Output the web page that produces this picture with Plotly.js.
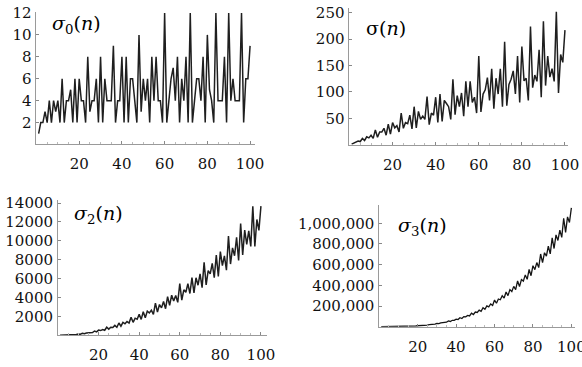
<!DOCTYPE html>
<html>
<head>
<meta charset="utf-8">
<script src="https://cdn.plot.ly/plotly-3.0.1.min.js"></script>
<style>html,body{margin:0;padding:0;background:#fff;}#chart{width:582px;height:367px;}</style>
</head>
<body>
<div id="chart"></div>
<script>
// n = 1..100
const nValues = [1,2,3,4,5,6,7,8,9,10,11,12,13,14,15,16,17,18,19,20,21,22,23,24,25,26,27,28,29,30,31,32,33,34,35,36,37,38,39,40,41,42,43,44,45,46,47,48,49,50,51,52,53,54,55,56,57,58,59,60,61,62,63,64,65,66,67,68,69,70,71,72,73,74,75,76,77,78,79,80,81,82,83,84,85,86,87,88,89,90,91,92,93,94,95,96,97,98,99,100];

const sigma0 = [1,2,2,3,2,4,2,4,3,4,2,6,2,4,4,5,2,6,2,6,4,4,2,8,3,4,4,6,2,8,2,6,4,4,4,9,2,4,4,8,2,8,2,6,6,4,2,10,3,6,4,6,2,8,4,8,4,4,2,12,2,4,6,7,4,8,2,6,4,8,2,12,2,4,6,6,4,8,2,10,5,4,2,12,4,4,4,8,2,12,4,6,4,4,4,12,2,6,6,9];

const sigma1 = [1,3,4,7,6,12,8,15,13,18,12,28,14,24,24,31,18,39,20,42,32,36,24,60,31,42,40,56,30,72,32,63,48,54,48,91,38,60,56,90,42,96,44,84,78,72,48,124,57,93,72,98,54,120,72,120,80,90,60,168,62,96,104,127,84,144,68,126,96,144,72,195,74,114,124,140,96,168,80,186,121,126,84,224,108,132,120,180,90,234,112,168,128,144,120,252,98,171,156,217];

const sigma2 = [1,5,10,21,26,50,50,85,91,130,122,210,170,250,260,341,290,455,362,546,500,610,530,850,651,850,820,1050,842,1300,962,1365,1220,1450,1300,1911,1370,1810,1700,2210,1682,2500,1850,2562,2366,2650,2210,3410,2451,3255,2900,3570,2810,4100,3172,4250,3620,4210,3482,5460,3722,4810,4550,5461,4420,6100,4490,6090,5300,6500,5042,7735,5330,6850,6510,7602,6100,8500,6242,8866,7381,8410,6890,10500,7540,9250,8420,10370,7922,11830,8500,11130,9620,11050,9412,13650,9410,12255,11102,13671];

const sigma3 = [1,9,28,73,126,252,344,585,757,1134,1332,2044,2198,3096,3528,4681,4914,6813,6860,9198,9632,11988,12168,16380,15751,19782,20440,25112,24390,31752,29792,37449,37296,44226,43344,55261,50654,61740,61544,73710,68922,86688,79508,97236,95382,109512,103824,131068,117993,141759,137592,160454,148878,183960,167832,201240,192080,219510,205380,257544,226982,268128,260408,299593,276948,335664,300764,358722,340704,390096,357912,442845,389018,455886,441028,500780,458208,553896,493040,589806,551881,620298,571788,703136,619164,715572,682920,779220,704970,858438,756112,888264,834176,934416,864360,1048572,912674,1061937,1008324,1149823];

const xTicks = [20,40,60,80,100];
const yTicks0 = [2,4,6,8,10,12];
const yTicks1 = [50,100,150,200,250];
const yTicks2 = [2000,4000,6000,8000,10000,12000,14000];
const yTicks3 = [200000,400000,600000,800000,1000000];
const titles = ['<i>σ</i><sub>0</sub>(<i>n</i>)', 'σ(<i>n</i>)', '<i>σ</i><sub>2</sub>(<i>n</i>)', '<i>σ</i><sub>3</sub>(<i>n</i>)'];

const lineStyle = {color:'#1f1f1f', width:1.5};
const traces = [
  {x:nValues, y:sigma0, xaxis:'x', yaxis:'y', mode:'lines', line:lineStyle},
  {x:nValues, y:sigma1, xaxis:'x2', yaxis:'y2', mode:'lines', line:lineStyle},
  {x:nValues, y:sigma2, xaxis:'x3', yaxis:'y3', mode:'lines', line:lineStyle},
  {x:nValues, y:sigma3, xaxis:'x4', yaxis:'y4', mode:'lines', line:{color:'#151515', width:1.3}}
];

const SERIF = 'DejaVu Serif';
const tickFont = {family:SERIF, size:15, color:'#111'};
function xa(dom, rng, anchor) {
  return {domain:dom, range:rng, anchor:anchor, showgrid:false, zeroline:false, showline:true,
    linecolor:'#9a9a9a', linewidth:1, ticks:'inside', ticklen:3, tickcolor:'#888',
    tickvals:xTicks, tickfont:tickFont, ticklabelstandoff:6, ticklabeloverflow:'allow',
    minor:{ticks:'inside', ticklen:2, dtick:5, tickcolor:'#bbb'}, fixedrange:true};
}
function ya(dom, rng, anchor, tv, fmt) {
  return {domain:dom, range:rng, anchor:anchor, showgrid:false, zeroline:false, showline:true,
    linecolor:'#9a9a9a', linewidth:1, ticks:'inside', ticklen:3, tickcolor:'#888',
    tickvals:tv, tickformat:fmt, tickfont:tickFont, ticklabelstandoff:1, ticklabeloverflow:'allow', fixedrange:true};
}

const titleFont = {family:SERIF, size:19, color:'#000'};
const layout = {
  width:582, height:367, margin:{l:0, r:0, t:0, b:0},
  paper_bgcolor:'#fff', plot_bgcolor:'#fff', showlegend:false,
  font:{family:SERIF},
  xaxis: xa([0.0627,0.4381],[0,102.3],'y'),
  yaxis: ya([0.6063,0.9673],[0,12.09],'x',yTicks0,'d'),
  xaxis2: xa([0.6005,0.9759],[0,101.4],'y2'),
  yaxis2: ya([0.6057,0.9782],[0,259],'x2',yTicks1,'d'),
  xaxis3: xa([0.0997,0.4588],[0,103],'y3'),
  yaxis3: ya([0.0864,0.4550],[0,14317],'x3',yTicks2,'d'),
  xaxis4: xa([0.6517,0.988],[0,101.9],'y4'),
  yaxis4: ya([0.1098,0.4414],[0,1177000],'x4',yTicks3,',d'),
  annotations: [
    {text:titles[0], x:0.0859, y:0.9319},
    {text:titles[1], x:0.6254, y:0.9237},
    {text:titles[2], x:0.1232, y:0.4142},
    {text:titles[3], x:0.6804, y:0.3823}
  ].map(a => Object.assign(a, {xref:'paper', yref:'paper', xanchor:'left', yanchor:'middle', showarrow:false, font:titleFont}))
};

Plotly.newPlot('chart', traces, layout, {displayModeBar:false, staticPlot:true});
</script>
</body>
</html>
